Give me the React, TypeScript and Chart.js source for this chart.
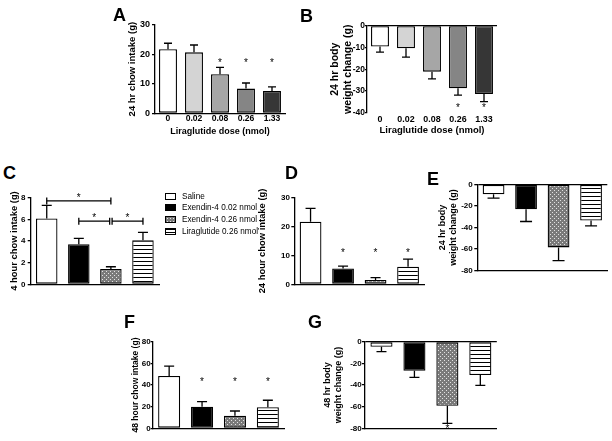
import React, { useEffect, useRef } from 'react';
import { Chart, registerables } from 'chart.js';
Chart.register(...registerables);

const FONT = "'Liberation Sans', Arial, Helvetica, sans-serif";

// ---------------- data ----------------
const doseLabels = ['0', '0.02', '0.08', '0.26', '1.33'];
const treatmentLabels = ['Saline', 'Exendin-4 0.02 nmol', 'Exendin-4 0.26 nmol', 'Liraglutide 0.26 nmol'];

const intake24Dose = [21.8, 20.7, 13.3, 8.4, 7.6];
const intake24DoseSem = [2.0, 2.5, 2.3, 1.9, 1.4];
const weight24Dose = [-9.6, -10.4, -21.1, -28.7, -31.3];
const weight24DoseSem = [2.6, 4.1, 3.3, 3.1, 3.5];

const intake4h = [6.08, 3.71, 1.41, 4.08];
const intake4hSem = [1.22, 0.53, 0.21, 0.71];
const intake24h = [21.7, 5.5, 1.5, 6.1];
const intake24hSem = [4.6, 0.8, 0.8, 2.6];
const weight24h = [-9.2, -23.1, -58.5, -33.6];
const weight24hSem = [3.7, 11.4, 12.3, 4.9];
const intake48h = [48.3, 20.0, 11.6, 19.4];
const intake48hSem = [9.2, 4.6, 4.4, 6.5];
const weight48h = [-4.6, -26.8, -59.1, -30.8];
const weight48hSem = [4.6, 6.1, 16.3, 9.5];

// significance stars: [category index, y value]
const starsA = [[2, 18], [3, 18], [4, 18]];
const starsB = [[3, -36.3], [4, -36.6]];
const starsD = [[1, 11.9], [2, 11.9], [3, 11.9]];
const starsF = [[1, 45], [2, 45], [3, 45]];
const starsG = [[2, -78.5]];
// comparison brackets in C: [from index, to index, y value]
const bracketsC = [[0, 2, 7.7], [1, 2, 5.83], [2, 3, 5.83]];

// y tick values
const ticksA = [0, 10, 20, 30];
const ticksB = [-40, -30, -20, -10, 0];
const ticksC = [0, 2, 4, 6, 8];
const ticksD = [0, 10, 20, 30];
const ticksE = [-80, -60, -40, -20, 0];
const ticksF = [0, 20, 40, 60, 80];
const ticksG = [-80, -60, -40, -20, 0];

const panelLetters = ['A', 'B', 'C', 'D', 'E', 'F', 'G'];

// ---------------- styles ----------------
const doseFills = ['#ffffff', '#d4d4d4', '#a6a6a6', '#858585', '#363636'];

function makeDots(): any {
  const c = document.createElement('canvas');
  c.width = 4; c.height = 4;
  const g = c.getContext('2d')!;
  g.fillStyle = '#7a7a7a'; g.fillRect(0, 0, 4, 4);
  g.fillStyle = '#e2e2e2'; g.fillRect(0, 0, 1, 1); g.fillRect(2, 2, 1, 1);
  return g.createPattern(c, 'repeat');
}
function makeStripes(): any {
  const c = document.createElement('canvas');
  c.width = 4; c.height = 4;
  const g = c.getContext('2d')!;
  g.fillStyle = '#ffffff'; g.fillRect(0, 0, 4, 4);
  g.fillStyle = '#000000'; g.fillRect(0, 0, 4, 1);
  return g.createPattern(c, 'repeat');
}

type Spec = {
  key: string;
  canvas: number[]; // x, y, w, h (page px)
  area: number[]; // l, t, r, b (page px)
  labels: string[]; values: number[]; sem: number[]; ticks: number[];
  fills: 'dose' | 'treat';
  barPct: number;
  yTitle: string | string[]; yTitleSize: number; yTitleLH: number; yTitleX: number;
  yTickSize: number; yTickRight: number; tickLen: number;
  xTickSize?: number; xTickY?: number; xTitle?: string; xTitleSize?: number; xTitleY?: number;
  zeroLine: boolean; xBorder: boolean;
  stars: number[][]; brackets?: number[][];
  cap: number;
};

const specs: Spec[] = [
  {
    key: 'A', canvas: [120, 12, 170, 127], area: [155, 25, 285, 113.3],
    labels: doseLabels, values: intake24Dose, sem: intake24DoseSem, ticks: ticksA, fills: 'dose', barPct: 0.69,
    yTitle: '24 hr chow intake (g)', yTitleSize: 9.5, yTitleLH: 11.4, yTitleX: 132,
    yTickSize: 9, yTickRight: 150, tickLen: 3,
    xTickSize: 8.6, xTickY: 119, xTitle: 'Liraglutide dose (nmol)', xTitleSize: 9, xTitleY: 132,
    zeroLine: false, xBorder: true, stars: starsA, cap: 4,
  },
  {
    key: 'B', canvas: [325, 12, 177, 127], area: [367, 25.5, 497, 113],
    labels: doseLabels, values: weight24Dose, sem: weight24DoseSem, ticks: ticksB, fills: 'dose', barPct: 0.69,
    yTitle: ['24 hr body', 'weight change (g)'], yTitleSize: 10.5, yTitleLH: 13, yTitleX: 335,
    yTickSize: 8.5, yTickRight: 365, tickLen: 2,
    xTickSize: 8.9, xTickY: 120, xTitle: 'Liraglutide dose (nmol)', xTitleSize: 9.5, xTitleY: 130.5,
    zeroLine: true, xBorder: false, stars: starsB, cap: 4,
  },
  {
    key: 'C', canvas: [4, 185, 158, 112], area: [30.7, 197.7, 159, 284.3],
    labels: treatmentLabels, values: intake4h, sem: intake4hSem, ticks: ticksC, fills: 'treat', barPct: 0.67,
    yTitle: '4 hour chow intake (g)', yTitleSize: 9.4, yTitleLH: 11.3, yTitleX: 14,
    yTickSize: 8, yTickRight: 25.5, tickLen: 3,
    zeroLine: false, xBorder: true, stars: [], brackets: bracketsC, cap: 5,
  },
  {
    key: 'D', canvas: [250, 183, 178, 114], area: [294.3, 197.7, 424.3, 284.3],
    labels: treatmentLabels, values: intake24h, sem: intake24hSem, ticks: ticksD, fills: 'treat', barPct: 0.67,
    yTitle: '24 hour chow intake (g)', yTitleSize: 9.4, yTitleLH: 11.3, yTitleX: 262,
    yTickSize: 8, yTickRight: 290, tickLen: 3,
    zeroLine: false, xBorder: true, stars: starsD, cap: 5,
  },
  {
    key: 'E', canvas: [432, 172, 180, 105], area: [477.3, 184.3, 607.3, 271],
    labels: treatmentLabels, values: weight24h, sem: weight24hSem, ticks: ticksE, fills: 'treat', barPct: 0.67,
    yTitle: ['24 hr body', 'weight change (g)'], yTitleSize: 9, yTitleLH: 10.5, yTitleX: 443,
    yTickSize: 8, yTickRight: 472.7, tickLen: 3,
    zeroLine: true, xBorder: true, stars: [], cap: 6,
  },
  {
    key: 'F', canvas: [125, 330, 164, 108], area: [152.7, 341.7, 284.3, 428.3],
    labels: treatmentLabels, values: intake48h, sem: intake48hSem, ticks: ticksF, fills: 'treat', barPct: 0.67,
    yTitle: '48 hour chow intake (g)', yTitleSize: 8.5, yTitleLH: 10.2, yTitleX: 136,
    yTickSize: 8, yTickRight: 150.7, tickLen: 2,
    zeroLine: false, xBorder: true, stars: starsF, cap: 5,
  },
  {
    key: 'G', canvas: [318, 330, 184, 108], area: [365, 341.7, 496.8, 428.3],
    labels: treatmentLabels, values: weight48h, sem: weight48hSem, ticks: ticksG, fills: 'treat', barPct: 0.67,
    yTitle: ['48 hr body', 'weight change (g)'], yTitleSize: 9, yTitleLH: 10.5, yTitleX: 328,
    yTickSize: 8, yTickRight: 361.7, tickLen: 3,
    zeroLine: true, xBorder: true, stars: starsG, cap: 5,
  },
];

const letterPos: Record<string, number[]> = {
  A: [113, 6], B: [300, 7], C: [3, 164], D: [285, 164], E: [427, 170], F: [124, 313], G: [308, 313],
};

const LW = 1.3;

function Panel({ s }: { s: Spec }) {
  const ref = useRef<HTMLCanvasElement>(null);
  useEffect(() => {
    const cv = ref.current!;
    const [cx, cy, cw, ch] = s.canvas;
    const [l, t, r, b] = s.area;
    const yW = l - cx;
    const xH = cy + ch - b;
    const padTop = t - cy;
    const padRight = cx + cw - r;
    const fills = s.fills === 'dose' ? doseFills : ['#ffffff', '#000000', makeDots(), makeStripes()];
    const annot = {
      id: 'annot' + s.key,
      afterDatasetsDraw(chart: any) {
        const ctx = chart.ctx;
        const xs = chart.scales.x;
        const ys = chart.scales.y;
        ctx.save();
        ctx.strokeStyle = '#000';
        ctx.lineWidth = LW;
        s.values.forEach((v, i) => {
          const px = xs.getPixelForValue(i);
          const dir = v < 0 ? -1 : 1;
          const p0 = ys.getPixelForValue(v);
          const p1 = ys.getPixelForValue(v + dir * s.sem[i]);
          ctx.beginPath();
          ctx.moveTo(px, p0); ctx.lineTo(px, p1);
          ctx.moveTo(px - s.cap, p1); ctx.lineTo(px + s.cap, p1);
          ctx.stroke();
        });
        ctx.fillStyle = '#000';
        ctx.textAlign = 'center';
        ctx.textBaseline = 'alphabetic';
        ctx.font = `normal 10px ${FONT}`;
        s.stars.forEach(([i, v]) => {
          ctx.fillText('*', xs.getPixelForValue(i), ys.getPixelForValue(v) + 5.7);
        });
        const br = s.brackets || [];
        br.forEach(([a, c, v], k) => {
          const shared = (idx: number) => br.some((o, j) => j !== k && o[2] === v && (o[0] === idx || o[1] === idx));
          const py = ys.getPixelForValue(v);
          const x1 = xs.getPixelForValue(a) + (shared(a) ? 1.2 : 0);
          const x2 = xs.getPixelForValue(c) - (shared(c) ? 1.2 : 0);
          ctx.beginPath();
          ctx.moveTo(x1, py); ctx.lineTo(x2, py);
          ctx.moveTo(x1, py - 3.5); ctx.lineTo(x1, py + 3.5);
          ctx.moveTo(x2, py - 3.5); ctx.lineTo(x2, py + 3.5);
          ctx.stroke();
          ctx.fillText('*', (x1 + x2) / 2, py + 0.2);
        });
        ctx.restore();
      },
    };
    const xLh = (s.xTickSize || 8) * 1.2;
    const xtLh = (s.xTitleSize || 9) * 1.2;
    const chart = new Chart(cv, {
      type: 'bar',
      data: {
        labels: s.labels,
        datasets: [{
          data: s.values,
          backgroundColor: fills as any,
          borderColor: '#000',
          borderWidth: LW,
          borderSkipped: false,
          barPercentage: s.barPct,
          categoryPercentage: 1,
        }],
      },
      options: {
        responsive: false,
        animation: false,
        devicePixelRatio: 1,
        layout: { padding: { left: 0, top: padTop, right: padRight, bottom: 0 } },
        plugins: { legend: { display: false }, tooltip: { enabled: false } },
        scales: {
          x: {
            type: 'category',
            offset: true,
            grid: { display: false, drawTicks: false, tickLength: 0 },
            border: { display: s.xBorder, color: '#000', width: LW },
            ticks: {
              display: !!s.xTickSize,
              color: '#000',
              maxRotation: 0, minRotation: 0, autoSkip: false,
              padding: s.xTickSize ? (s.xTickY! - b - xLh / 2) : 0,
              font: { family: FONT, size: s.xTickSize || 8, weight: 'bold', lineHeight: 1.2 },
            },
            title: {
              display: !!s.xTitle,
              text: s.xTitle || '',
              color: '#000',
              font: { family: FONT, size: s.xTitleSize || 9, weight: 'bold', lineHeight: 1.2 },
              padding: { top: 0, bottom: s.xTitle ? (cy + ch - xtLh / 2 - s.xTitleY!) : 0 },
            },
            afterFit: (sc: any) => { sc.height = xH; },
          } as any,
          y: {
            type: 'linear',
            min: Math.min(...s.ticks),
            max: Math.max(...s.ticks),
            afterBuildTicks: (sc: any) => { sc.ticks = s.ticks.map((v) => ({ value: v })); },
            grid: {
              display: true,
              drawOnChartArea: true,
              drawTicks: true,
              tickLength: s.tickLen,
              lineWidth: LW,
              tickWidth: LW,
              tickColor: '#000',
              color: (ctx: any) => (s.zeroLine && ctx.tick && ctx.tick.value === 0 ? '#000' : 'rgba(0,0,0,0)'),
            },
            border: { display: true, color: '#000', width: LW },
            ticks: {
              color: '#000',
              padding: Math.max(0, l - s.tickLen - s.yTickRight),
              font: { family: FONT, size: s.yTickSize, weight: 'bold', lineHeight: 1.2 },
              callback: (v: any) => String(v),
            },
            title: {
              display: true,
              text: s.yTitle as any,
              color: '#000',
              font: { family: FONT, size: s.yTitleSize, weight: 'bold', lineHeight: s.yTitleLH / s.yTitleSize },
              padding: { top: s.yTitleX - cx - s.yTitleLH / 2, bottom: 0 },
            },
            afterFit: (sc: any) => { sc.width = yW; },
          } as any,
        },
      },
      plugins: [annot],
    });
    return () => chart.destroy();
  }, []);
  const [cx, cy, cw, ch] = s.canvas;
  return (
    <canvas
      ref={ref}
      width={cw}
      height={ch}
      style={{ position: 'absolute', left: cx, top: cy, width: cw, height: ch }}
    />
  );
}

const swatchStyles: React.CSSProperties[] = [
  { background: '#ffffff' },
  { background: '#000000' },
  {
    backgroundColor: '#7a7a7a',
    backgroundImage: 'radial-gradient(circle, #e2e2e2 0.7px, transparent 0.9px)',
    backgroundSize: '3px 3px',
  },
  { background: 'repeating-linear-gradient(to bottom, #000 0px, #000 1px, #fff 1px, #fff 3px)' },
];

export default function App() {
  return (
    <div
      style={{
        position: 'absolute', left: 0, top: 0, width: 612, height: 441,
        background: '#fff', overflow: 'hidden', fontFamily: FONT,
      }}
    >
      {specs.map((s) => <Panel key={s.key} s={s} />)}
      {panelLetters.map((L) => (
        <div
          key={L}
          style={{
            position: 'absolute', left: letterPos[L][0], top: letterPos[L][1],
            fontSize: 18, lineHeight: '18px', fontWeight: 'bold', fontFamily: FONT, color: '#000',
          }}
        >
          {L}
        </div>
      ))}
      <div style={{ position: 'absolute', left: 165, top: 191 }}>
        {treatmentLabels.map((lab, i) => (
          <div
            key={lab}
            style={{
              position: 'absolute', left: 0, top: i * 11.7, height: 10,
              display: 'flex', alignItems: 'center', whiteSpace: 'nowrap',
            }}
          >
            <span
              style={{
                display: 'inline-block', width: 11, height: 7, border: '1px solid #000',
                boxSizing: 'border-box', ...swatchStyles[i],
              }}
            />
            <span style={{ marginLeft: 6, fontSize: 8.2, fontFamily: FONT, color: '#000' }}>{lab}</span>
          </div>
        ))}
      </div>
    </div>
  );
}
